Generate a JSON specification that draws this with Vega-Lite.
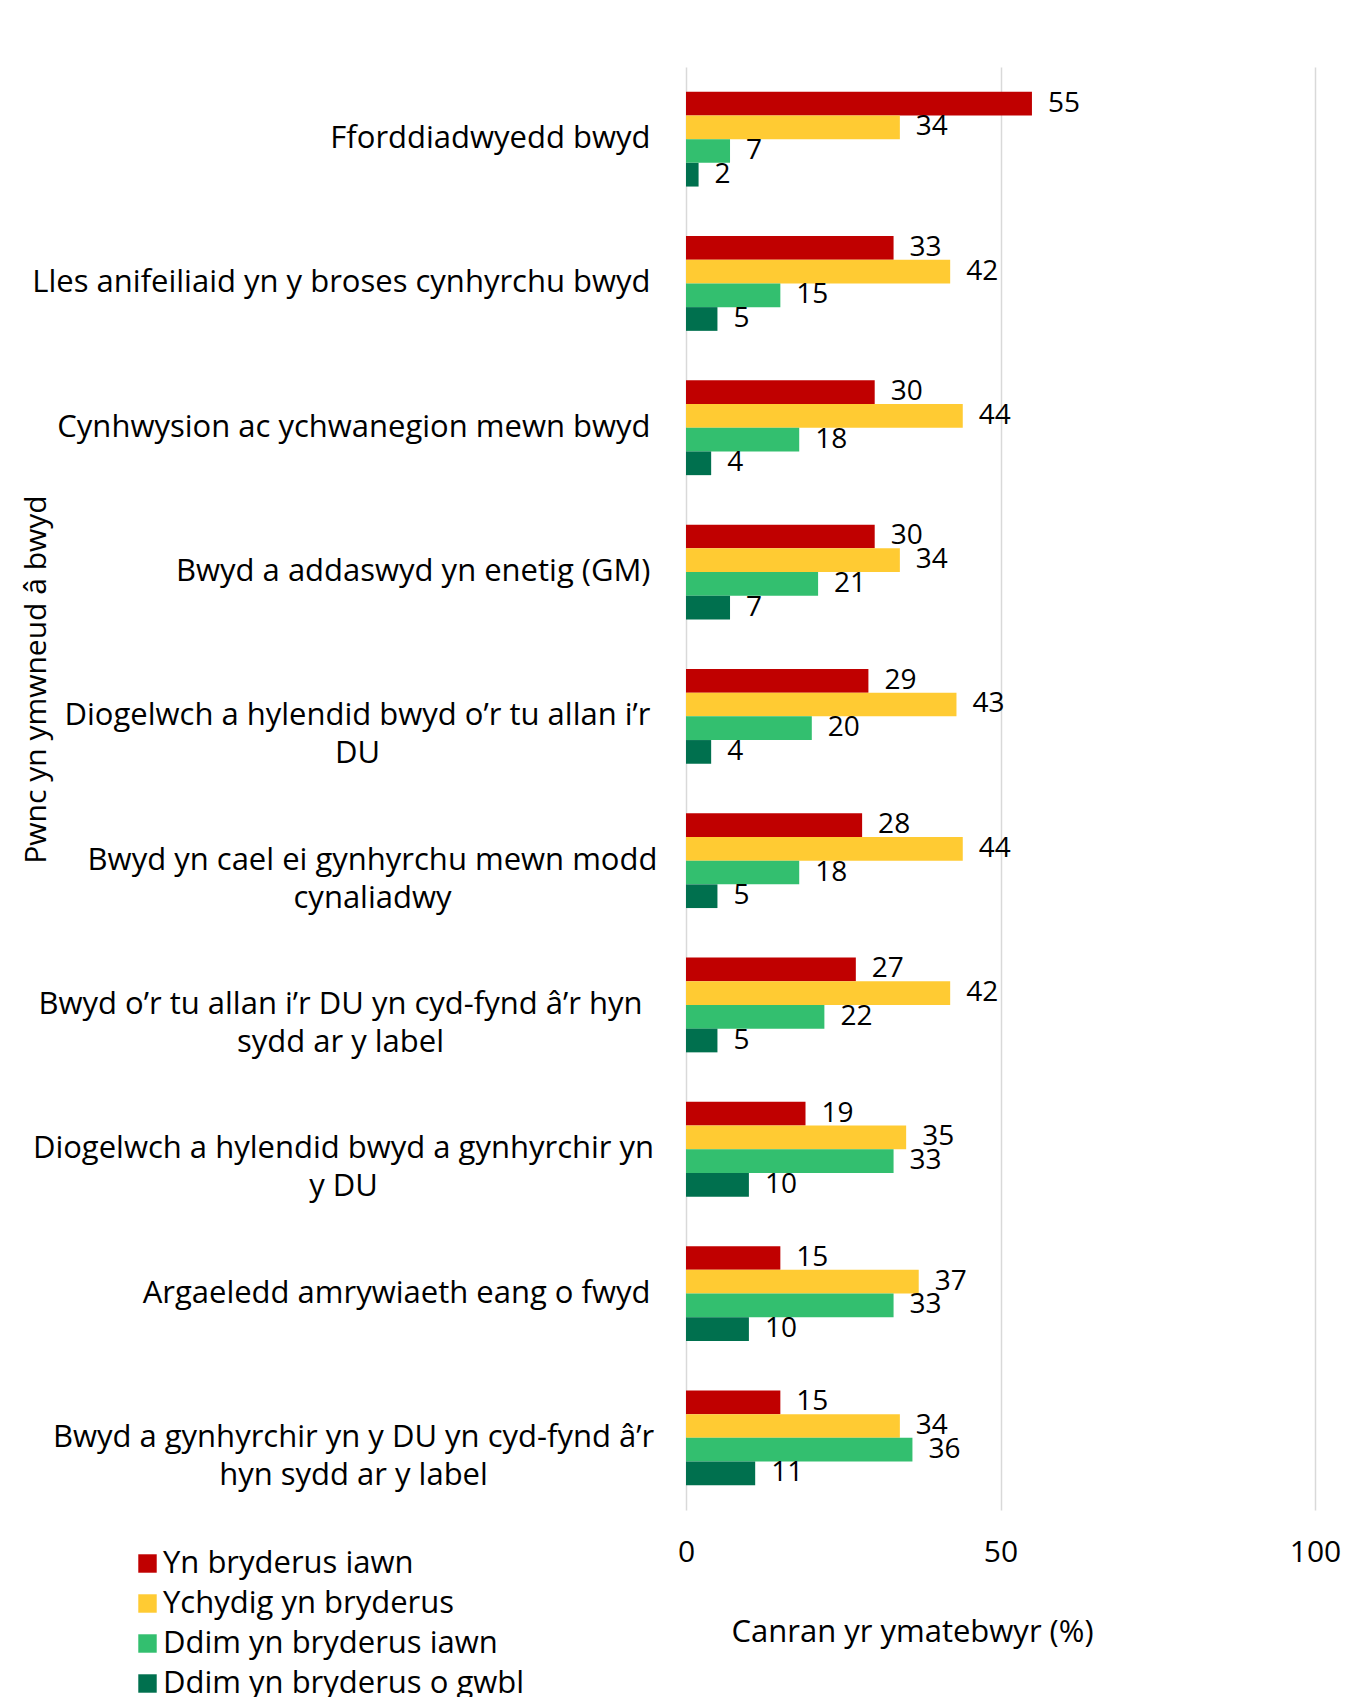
{
  "$schema": "https://vega.github.io/schema/vega-lite/v6.json",
  "width": 629,
  "height": 1443,
  "autosize": {"type": "none"},
  "padding": {"left": 686, "top": 67, "right": 52, "bottom": 187},
  "background": "white",
  "config": {
    "view": {"stroke": null},
    "font": "Open Sans"
  },
  "data": {
    "values": [
      {"topic": "Fforddiadwyedd bwyd", "level": "Yn bryderus iawn", "value": 55},
      {"topic": "Fforddiadwyedd bwyd", "level": "Ychydig yn bryderus", "value": 34},
      {"topic": "Fforddiadwyedd bwyd", "level": "Ddim yn bryderus iawn", "value": 7},
      {"topic": "Fforddiadwyedd bwyd", "level": "Ddim yn bryderus o gwbl", "value": 2},
      {"topic": "Lles anifeiliaid yn y broses cynhyrchu bwyd", "level": "Yn bryderus iawn", "value": 33},
      {"topic": "Lles anifeiliaid yn y broses cynhyrchu bwyd", "level": "Ychydig yn bryderus", "value": 42},
      {"topic": "Lles anifeiliaid yn y broses cynhyrchu bwyd", "level": "Ddim yn bryderus iawn", "value": 15},
      {"topic": "Lles anifeiliaid yn y broses cynhyrchu bwyd", "level": "Ddim yn bryderus o gwbl", "value": 5},
      {"topic": "Cynhwysion ac ychwanegion mewn bwyd", "level": "Yn bryderus iawn", "value": 30},
      {"topic": "Cynhwysion ac ychwanegion mewn bwyd", "level": "Ychydig yn bryderus", "value": 44},
      {"topic": "Cynhwysion ac ychwanegion mewn bwyd", "level": "Ddim yn bryderus iawn", "value": 18},
      {"topic": "Cynhwysion ac ychwanegion mewn bwyd", "level": "Ddim yn bryderus o gwbl", "value": 4},
      {"topic": "Bwyd a addaswyd yn enetig (GM)", "level": "Yn bryderus iawn", "value": 30},
      {"topic": "Bwyd a addaswyd yn enetig (GM)", "level": "Ychydig yn bryderus", "value": 34},
      {"topic": "Bwyd a addaswyd yn enetig (GM)", "level": "Ddim yn bryderus iawn", "value": 21},
      {"topic": "Bwyd a addaswyd yn enetig (GM)", "level": "Ddim yn bryderus o gwbl", "value": 7},
      {"topic": "Diogelwch a hylendid bwyd o’r tu allan i’r|DU", "level": "Yn bryderus iawn", "value": 29},
      {"topic": "Diogelwch a hylendid bwyd o’r tu allan i’r|DU", "level": "Ychydig yn bryderus", "value": 43},
      {"topic": "Diogelwch a hylendid bwyd o’r tu allan i’r|DU", "level": "Ddim yn bryderus iawn", "value": 20},
      {"topic": "Diogelwch a hylendid bwyd o’r tu allan i’r|DU", "level": "Ddim yn bryderus o gwbl", "value": 4},
      {"topic": "Bwyd yn cael ei gynhyrchu mewn modd|cynaliadwy", "level": "Yn bryderus iawn", "value": 28},
      {"topic": "Bwyd yn cael ei gynhyrchu mewn modd|cynaliadwy", "level": "Ychydig yn bryderus", "value": 44},
      {"topic": "Bwyd yn cael ei gynhyrchu mewn modd|cynaliadwy", "level": "Ddim yn bryderus iawn", "value": 18},
      {"topic": "Bwyd yn cael ei gynhyrchu mewn modd|cynaliadwy", "level": "Ddim yn bryderus o gwbl", "value": 5},
      {"topic": "Bwyd o’r tu allan i’r DU yn cyd-fynd â’r hyn|sydd ar y label", "level": "Yn bryderus iawn", "value": 27},
      {"topic": "Bwyd o’r tu allan i’r DU yn cyd-fynd â’r hyn|sydd ar y label", "level": "Ychydig yn bryderus", "value": 42},
      {"topic": "Bwyd o’r tu allan i’r DU yn cyd-fynd â’r hyn|sydd ar y label", "level": "Ddim yn bryderus iawn", "value": 22},
      {"topic": "Bwyd o’r tu allan i’r DU yn cyd-fynd â’r hyn|sydd ar y label", "level": "Ddim yn bryderus o gwbl", "value": 5},
      {"topic": "Diogelwch a hylendid bwyd a gynhyrchir yn|y DU", "level": "Yn bryderus iawn", "value": 19},
      {"topic": "Diogelwch a hylendid bwyd a gynhyrchir yn|y DU", "level": "Ychydig yn bryderus", "value": 35},
      {"topic": "Diogelwch a hylendid bwyd a gynhyrchir yn|y DU", "level": "Ddim yn bryderus iawn", "value": 33},
      {"topic": "Diogelwch a hylendid bwyd a gynhyrchir yn|y DU", "level": "Ddim yn bryderus o gwbl", "value": 10},
      {"topic": "Argaeledd amrywiaeth eang o fwyd", "level": "Yn bryderus iawn", "value": 15},
      {"topic": "Argaeledd amrywiaeth eang o fwyd", "level": "Ychydig yn bryderus", "value": 37},
      {"topic": "Argaeledd amrywiaeth eang o fwyd", "level": "Ddim yn bryderus iawn", "value": 33},
      {"topic": "Argaeledd amrywiaeth eang o fwyd", "level": "Ddim yn bryderus o gwbl", "value": 10},
      {"topic": "Bwyd a gynhyrchir yn y DU yn cyd-fynd â’r|hyn sydd ar y label", "level": "Yn bryderus iawn", "value": 15},
      {"topic": "Bwyd a gynhyrchir yn y DU yn cyd-fynd â’r|hyn sydd ar y label", "level": "Ychydig yn bryderus", "value": 34},
      {"topic": "Bwyd a gynhyrchir yn y DU yn cyd-fynd â’r|hyn sydd ar y label", "level": "Ddim yn bryderus iawn", "value": 36},
      {"topic": "Bwyd a gynhyrchir yn y DU yn cyd-fynd â’r|hyn sydd ar y label", "level": "Ddim yn bryderus o gwbl", "value": 11}
    ]
  },
  "encoding": {
    "y": {
      "field": "topic",
      "type": "nominal",
      "sort": null,
      "scale": {"paddingInner": 0.343, "paddingOuter": 0.1715},
      "axis": {
        "title": "Pwnc yn ymwneud â bwyd",
        "titleFontSize": 30,
        "titleFontWeight": "normal",
        "titleColor": "#000000",
        "titleX": -650,
        "titleY": 612,
        "titleAngle": -90,
        "titleAlign": "center",
        "titleBaseline": "middle",
        "labelExpr": "split(datum.label, '|')",
        "labelFontSize": 31,
        "labelColor": "#000000",
        "labelLineHeight": 38,
        "labelAlign": {"condition": {"test": "indexof(datum.value, '|') >= 0", "value": "center"}, "value": "right"},
        "labelPadding": {
          "condition": [
            {"test": "indexof(datum.value, 'o’r tu allan i’r|DU') >= 0", "value": 329},
            {"test": "indexof(datum.value, 'modd|') >= 0", "value": 314},
            {"test": "indexof(datum.value, 'hyn|sydd') >= 0", "value": 346},
            {"test": "indexof(datum.value, 'yn|y DU') >= 0", "value": 343},
            {"test": "indexof(datum.value, 'â’r|hyn') >= 0", "value": 333}
          ],
          "value": 36
        },
        "labelLimit": 700,
        "ticks": false,
        "domain": false,
        "grid": false
      }
    },
    "yOffset": {
      "field": "level",
      "type": "nominal",
      "sort": ["Yn bryderus iawn", "Ychydig yn bryderus", "Ddim yn bryderus iawn", "Ddim yn bryderus o gwbl"],
      "scale": {"paddingInner": 0, "paddingOuter": 0}
    },
    "x": {
      "field": "value",
      "type": "quantitative",
      "scale": {"domain": [0, 100]},
      "axis": {
        "values": [0, 50, 100],
        "title": "Canran yr ymatebwyr (%)",
        "titleFontSize": 31,
        "titleFontWeight": "normal",
        "titleColor": "#000000",
        "titleX": 226,
        "titleY": 122,
        "titleAlign": "center",
        "titleBaseline": "middle",
        "labelFontSize": 30,
        "labelColor": "#000000",
        "labelPadding": 27,
        "labelFlush": false,
        "ticks": false,
        "domain": false,
        "grid": true,
        "gridColor": "#D9D9D9",
        "gridWidth": 1.5
      }
    }
  },
  "layer": [
    {
      "mark": {"type": "bar"},
      "encoding": {
        "fill": {
          "field": "level",
          "type": "nominal",
          "sort": ["Yn bryderus iawn", "Ychydig yn bryderus", "Ddim yn bryderus iawn", "Ddim yn bryderus o gwbl"],
          "scale": {
            "domain": ["Yn bryderus iawn", "Ychydig yn bryderus", "Ddim yn bryderus iawn", "Ddim yn bryderus o gwbl"],
            "range": ["#C00000", "#FFCB33", "#33BF6F", "#00704E"]
          },
          "legend": {
            "title": null,
            "orient": "none",
            "legendX": -554,
            "legendY": 1481,
            "symbolType": "square",
            "symbolSize": 340,
            "symbolStrokeWidth": 0,
            "labelFontSize": 31,
            "labelColor": "#000000",
            "labelOffset": 0,
            "rowPadding": 8,
            "labelLimit": 500
          }
        }
      }
    },
    {
      "mark": {"type": "text", "align": "left", "baseline": "middle", "dx": 16, "fontSize": 28, "color": "#000000"},
      "encoding": {
        "text": {"field": "value", "type": "quantitative"}
      }
    }
  ]
}
